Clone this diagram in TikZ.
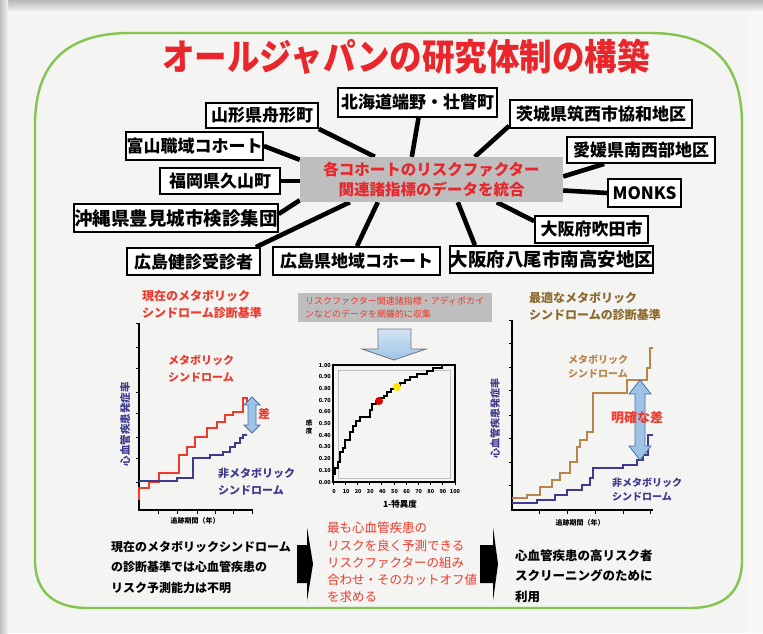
\documentclass[tikz,border=0pt]{standalone}
\usepackage{fontspec}
\setmainfont{Noto Sans CJK JP}
\usetikzlibrary{calc}
\definecolor{tred}{HTML}{E8262B}
\definecolor{lred}{HTML}{EE3A2C}
\definecolor{navy}{HTML}{3E3A8E}
\definecolor{brownl}{HTML}{B8864B}
\definecolor{brownt}{HTML}{8C6A2E}
\definecolor{gboxc}{HTML}{BEBEBE}
\definecolor{lblue}{HTML}{9DC3E6}
\definecolor{lbluedark}{HTML}{4F6F9F}
\definecolor{frameg}{HTML}{84C450}
\definecolor{bgc}{HTML}{F4F4F2}
\pgfdeclarelayer{back}
\pgfdeclarelayer{bg}
\pgfsetlayers{back,bg,main}
\newcommand{\fsz}[2]{\fontsize{#1}{#2}\selectfont}
\tikzset{
  cohort/.style={draw=black, line width=1.8pt, fill=white, inner sep=0pt,
    font=\bfseries\fsz{17}{17}},
  link/.style={line width=4.6pt, black},
  axisline/.style={line width=1.6pt, black},
  tickline/.style={line width=0.9pt, black},
  stepred/.style={line width=1.8pt, lred},
  stepnavy/.style={line width=1.8pt, navy},
  stepbrown/.style={line width=1.8pt, brownl},
  blockarr/.style={fill=lblue, draw=lbluedark, line width=0.8pt},
  blackarr/.style={fill=black, draw=none},
  lbl/.style={inner sep=0pt, align=left, anchor=west}
}
\begin{document}
\begin{tikzpicture}[x=1pt,y=-1pt]
\useasboundingbox (0,0) rectangle (763,633);
\begin{pgfonlayer}{back}
% background
\fill[bgc] (0,0) rectangle (763,633);
\fill[white!97!black] (746,0) rectangle (763,633);
\shade[top color=black!28, bottom color=black!8] (0,0) rectangle (763,10);
\shade[left color=black!25, right color=black!6] (0,0) rectangle (8,633);
% green frame
\draw[frameg, line width=2.4pt] (35,125) .. controls (35,62) and (68,33) .. (130,33)
  -- (650,33) .. controls (712,33) and (742,62) .. (742,125)
  -- (742,560) .. controls (742,592) and (724,608) .. (690,608)
  -- (88,608) .. controls (54,608) and (35,592) .. (35,560) -- cycle;
\end{pgfonlayer}
% title
\node[tred, font=\bfseries\fsz{32.5}{33}, inner sep=0pt] (title) at (406,57)
  {\scalebox{1}[1.12]{オールジャパンの研究体制の構築}};
% central box
\node[fill=gboxc, minimum width=263pt, minimum height=45pt, inner sep=0pt,
  align=center, text=tred, font=\bfseries\fsz{15.5}{20}] (ctr) at (431.5,179.5)
  {各コホートのリスクファクター\\関連諸指標のデータを統合};
% cohort boxes
\node[cohort, minimum width=112pt, minimum height=25pt] (yam) at (262,115.5) {山形県舟形町};
\node[cohort, minimum width=159pt, minimum height=29pt] (hok) at (417.5,102.5) {北海道端野・壮瞥町};
\node[cohort, minimum width=137pt, minimum height=28pt] (toy) at (194.5,146) {富山職域コホート};
\node[cohort, minimum width=120pt, minimum height=26pt] (fuk) at (220,181) {福岡県久山町};
\node[cohort, minimum width=198pt, minimum height=28pt, font=\bfseries\fsz{18.5}{18.5}] (oki) at (176,218) {沖縄県豊見城市検診集団};
\node[cohort, minimum width=133pt, minimum height=27pt] (hk) at (193.5,261.5) {広島健診受診者};
\node[cohort, minimum width=167pt, minimum height=28pt] (hc) at (356.5,261) {広島県地域コホート};
\node[cohort, minimum width=199pt, minimum height=27pt, font=\bfseries\fsz{18.5}{18.5}] (yao) at (551.5,259.5) {大阪府八尾市南高安地区};
\node[cohort, minimum width=113pt, minimum height=27pt] (sui) at (591.5,229.5) {大阪府吹田市};
\node[cohort, minimum width=73pt, minimum height=28pt] (mon) at (644.5,193) {MONKS};
\node[cohort, minimum width=148pt, minimum height=26pt] (ehi) at (641,150) {愛媛県南西部地区};
\node[cohort, minimum width=182pt, minimum height=28pt] (iba) at (601,114) {茨城県筑西市協和地区};
% connectors
\begin{pgfonlayer}{bg}
\draw[link] (yam.south east) -- ($(ctr.north west)+(75,0)$);
\draw[link] ($(hok.south)+(1,0)$) -- ($(ctr.north west)+(112,0)$);
\draw[link] (toy.east) -- ($(ctr.north west)+(0,3)$);
\draw[link] (fuk.east) -- (ctr.west |- fuk.east);
\draw[link] ($(oki.east)+(0,-4)$) -- ($(ctr.south west)+(0,-2)$);
\draw[link] ($(hk.north east)+(-5,0)$) -- ($(ctr.south west)+(50,0)$);
\draw[link] ($(hc.north)+(0.5,0)$) -- ($(ctr.south west)+(78,0)$);
\draw[link] ($(yao.north west)+(26,0)$) -- ($(ctr.south west)+(158,0)$);
\draw[link] ($(sui.north west)+(0,6)$) -- ($(ctr.south west)+(197,0)$);
\draw[link] (mon.west) -- ($(ctr.east)+(0,11)$);
\draw[link] ($(ehi.south west)+(38,0)$) -- ($(ctr.east)+(0,-3)$);
\draw[link] ($(iba.south west)+(0,-3)$) -- ($(ctr.north west)+(175,0)$);
\end{pgfonlayer}

% ================= left chart
\node[lbl, text=lred, font=\bfseries\fsz{12}{17}] (ltitle) at (142,304.5)
  {現在のメタボリック\\シンドローム診断基準};
\draw[axisline] (139,323) -- (139,510) -- (253,510);
\foreach \yy in {323,347,368,392,413,437,458,482}
  \draw[tickline] (136,\yy) -- (139,\yy);
\foreach \xx in {158,177,197,215,233,252}
  \draw[tickline] (\xx,510) -- (\xx,514);
\draw[stepred] (139,500)--(139,488)--(149,488)--(149,482)--(159,482)--(159,473)--(179,473)
  --(179,455)--(187,455)--(187,447)--(195,447)--(195,437)--(207,437)--(207,428)--(217,428)
  --(217,422)--(225,422)--(225,415)--(233,415)--(233,412)--(243,412)--(243,398)--(247,398)--(247,403);
\draw[stepnavy] (139,481)--(177,481)--(177,478)--(193,478)--(193,458)--(210,458)--(210,455)
  --(223,455)--(223,452)--(230,452)--(230,447)--(235,447)--(235,443)--(240,443)--(240,438)
  --(243,438)--(243,435)--(247,435);
\draw[blockarr] (252,397)--(260,405)--(256,405)--(256,425)--(260,425)--(252,433)
  --(244,425)--(248,425)--(248,405)--(244,405)--cycle;
\node[text=lred, font=\bfseries\fsz{12}{12}, inner sep=0pt] (lsa) at (264,414) {差};
\node[lbl, text=lred, font=\bfseries\fsz{11}{17}] (lmet) at (168,368.5) {メタボリック\\シンドローム};
\node[lbl, text=navy, font=\bfseries\fsz{11}{17}] (lnon) at (218,481.5) {非メタボリック\\シンドローム};
\node[text=navy, rotate=90, font=\bfseries\fsz{10.5}{10.5}, inner sep=0pt] (lyl) at (125,424) {心血管疾患発症率};
\node[font=\bfseries\fsz{7}{7}, inner sep=0pt] (lxl) at (195,521) {追跡期間（年）};

% ================= middle ROC
\node[fill=gboxc, minimum width=194pt, minimum height=29pt, inner sep=0pt] (gbox) at (395,307.5) {};
\node[lbl, text=lred, font=\fsz{9}{12.5}] (gtext) at (305,307.5)
  {リスクファクター関連諸指標・アディポカイ\\ンなどのデータを網羅的に収集};
\shade[top color=lblue!45, bottom color=lblue, draw=black!55, line width=0.8pt]
  (378,329)--(411,329)--(411,349)--(426,349)--(394,360)--(362,349)--(378,349)--cycle;
\draw[black!25, line width=0.5pt] (338,370) rectangle (450,478);
\draw[line width=2pt] (333,365) rectangle (455,482);
\foreach \i/\t in {0/0.00,1/0.10,2/0.20,3/0.30,4/0.40,5/0.50,6/0.60,7/0.70,8/0.80,9/0.90,10/1.00}
  \node[anchor=east, font=\bfseries\fsz{5.5}{5.5}, inner sep=0pt] at (331,482-11.7*\i) {\t};
\foreach \i/\t in {0/0,1/10,2/20,3/30,4/40,5/50,6/60,7/70,8/80,9/90,10/100}{
  \node[font=\bfseries\fsz{5.5}{5.5}, inner sep=0pt] at (334+12.1*\i,491) {\t};
  \draw[line width=0.8pt] (333+12.2*\i,482) -- (333+12.2*\i,485);}
\draw[line width=2pt, line join=miter] (333,482)--(333,474)--(335,474)--(335,468)--(338,468)--(338,462)
  --(340,462)--(340,452)--(343,452)--(343,448)--(345,448)--(345,440)--(350,440)--(350,432)
  --(353,432)--(353,426)--(356,426)--(356,421)--(360,421)--(360,417)--(370,417)--(370,410)
  --(372,410)--(372,404)--(376,404)--(376,401)--(380,401)--(380,398)--(384,398)--(384,396)
  --(387,396)--(387,392)--(391,392)--(391,389)--(395,389)--(395,386)--(400,386)--(400,383)
  --(405,383)--(405,380)--(410,380)--(410,377)--(417,377)--(417,374)--(427,374)--(427,371)
  --(433,371)--(433,368)--(442,368)--(442,365)--(455,365);
\fill[red!90!black] (379,401) circle (4);
\fill[yellow!90!orange] (397,387) circle (4);
\node[font=\bfseries\fsz{6.5}{7.5}, align=center, inner sep=0pt] (sens) at (309,427) {感\\度};
\node[font=\bfseries\fsz{8.5}{8.5}, inner sep=0pt] (spec) at (400,504) {1-特異度};

% ================= right chart
\node[lbl, text=brownt, font=\bfseries\fsz{12}{17}] (rtitle) at (529,306.5)
  {最適なメタボリック\\シンドロームの診断基準};
\draw[axisline] (512,320) -- (512,510) -- (653,510);
\foreach \yy in {320,343,367,390,415,438,462,485}
  \draw[tickline] (509,\yy) -- (512,\yy);
\foreach \xx in {539,567,595,623,650}
  \draw[tickline] (\xx,510) -- (\xx,514);
\draw[stepbrown] (512,498)--(527,498)--(527,495)--(540,495)--(540,487)--(552,487)--(552,480)
  --(560,480)--(560,473)--(570,473)--(570,462)--(577,462)--(577,447)--(580,447)--(580,440)
  --(587,440)--(587,432)--(593,432)--(593,393)--(627,393)--(627,380)--(647,380)--(647,368)
  --(650,368)--(650,348)--(653,348);
\draw[stepnavy] (512,503)--(537,503)--(537,500)--(555,500)--(555,495)--(567,495)--(567,490)
  --(582,490)--(582,485)--(590,485)--(590,478)--(593,478)--(593,468)--(623,468)--(623,465)
  --(637,465)--(637,460)--(643,460)--(643,455)--(648,455)--(648,435)--(653,435);
\draw[blockarr] (640,380)--(651,394)--(645,394)--(645,446)--(651,446)--(640,460)
  --(629,446)--(635,446)--(635,394)--(629,394)--cycle;
\node[text=lred, font=\bfseries\fsz{13}{13}, inner sep=0pt] (rsa) at (637,418) {明確な差};
\node[lbl, text=brownl, font=\bfseries\fsz{10}{13.5}] (rmet) at (568,366.5) {メタボリック\\シンドローム};
\node[lbl, text=navy, font=\bfseries\fsz{10}{14}] (rnon) at (612,490) {非メタボリック\\シンドローム};
\node[text=navy, rotate=90, font=\bfseries\fsz{10}{10}, inner sep=0pt] (ryl) at (495,418) {心血管疾患発症率};
\node[font=\bfseries\fsz{7}{7}, inner sep=0pt] (rxl) at (580,523) {追跡期間（年）};

% ================= bottom
\node[anchor=north west, align=left, inner sep=0pt, font=\bfseries\fsz{12}{20.5}] (btxt1) at (111,541)
  {現在のメタボリックシンドローム\\の診断基準では心血管疾患の\\リスク予測能力は不明};
\fill[blackarr] (297,545)--(307,545)--(307,527)--(313,564)--(307,601)--(307,583)--(297,583)--cycle;
\node[anchor=north west, align=left, inner sep=0pt, text=lred, font=\fsz{12.5}{17.3}] (btxt2) at (327,522)
  {最も心血管疾患の\\リスクを良く予測できる\\リスクファクターの組み\\合わせ・そのカットオフ値\\を求める};
\fill[blackarr] (480,545)--(493,545)--(493,527)--(498,564)--(493,601)--(493,583)--(480,583)--cycle;
\node[anchor=north west, align=left, inner sep=0pt, font=\bfseries\fsz{12.5}{20.5}] (btxt3) at (515,549)
  {心血管疾患の高リスク者\\スクリーニングのために\\利用};
\end{tikzpicture}
\end{document}
